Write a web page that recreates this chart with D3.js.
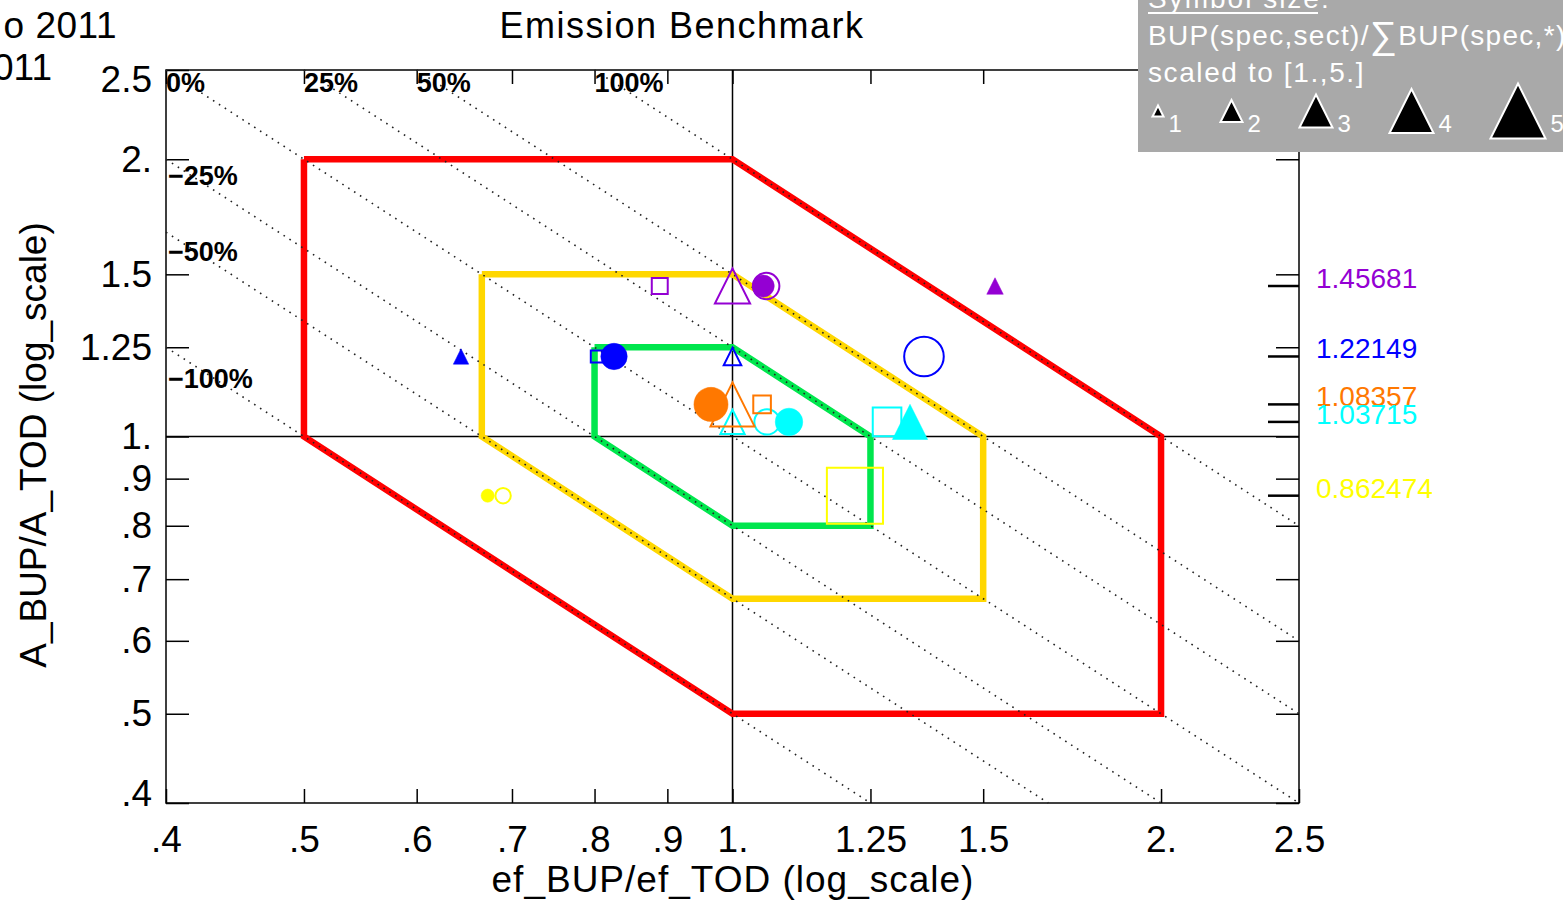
<!DOCTYPE html>
<html>
<head>
<meta charset="utf-8">
<script src="https://cdn.jsdelivr.net/npm/d3@7"></script>
<style>
  body { margin: 0; background: #fff; }
  svg { display: block; font-family: "Liberation Sans", Arial, sans-serif; }
</style>
</head>
<body>
<svg id="chart" width="1563" height="900"></svg>
<script>
// axis ticks (same on both log axes)
const tickVals = [0.4, 0.5, 0.6, 0.7, 0.8, 0.9, 1, 1.25, 1.5, 2, 2.5]
const tickLabels = [".4", ".5", ".6", ".7", ".8", ".9", "1.", "1.25", "1.5", "2.", "2.5"]

// benchmark hexagons: factor f -> corners at 1/f and f
const bandFactors = [2, 1.5, 1.25]
const bandColors = ["#ff0000", "#ffd700", "#00e64d"]

// iso lines of ef*A
const isoTop = [1, 1.25, 1.5, 2]
const isoTopLabels = ["0%", "25%", "50%", "100%"]
const isoLeft = [0.8, 2 / 3, 0.5]
const isoLeftLabels = ["\u221225%", "\u221250%", "\u2212100%"]
const isoLeftLabelY = [1.875, 1.55, 1.13]

// species (A_BUP/A_TOD is one value per species)
const speciesColor = ["#9400d3", "#0000ff", "#ff7800", "#00ffff", "#ffff00"]
const speciesRatio = [1.45681, 1.22149, 1.08357, 1.03715, 0.862474]
const speciesLabel = ["1.45681", "1.22149", "1.08357", "1.03715", "0.862474"]

// sectors -> symbol
const sectorSymbol = ["square", "triangle", "circle", "disc", "filltri"]

// ef_BUP/ef_TOD per sector (null = no point), one array per species
const purpleEf = [0.889, 1.0, 1.056, 1.051, 1.529]
const blueEf = [0.803, 1.0, 1.363, 0.8256, 0.6446]
const orangeEf = [1.049, 1.0, null, 0.9658, null]
const cyanEf = [1.284, 1.0, 1.0574, 1.0957, 1.3326]
const yellowEf = [1.219, null, 0.690, 0.673, null]

// symbol size, scaled to [1,5]
const purpleSize = [1.45, 3.2, 2.4, 2.0, 1.5]
const blueSize = [1.1, 1.6, 3.6, 2.4, 1.4]
const orangeSize = [1.6, 4.0, 0, 3.1, 0]
const cyanSize = [2.6, 2.2, 2.3, 2.5, 3.2]
const yellowSize = [5.1, 0, 1.4, 1.2, 0]

const legendSizes = [1, 2, 3, 4, 5]

const efBySpecies = [purpleEf, blueEf, orangeEf, cyanEf, yellowEf]
const sizeBySpecies = [purpleSize, blueSize, orangeSize, cyanSize, yellowSize]

const svg = d3.select("#chart")

const x = d3.scaleLog().domain([0.4, 2.5]).range([166, 1299])
const y = d3.scaleLog().domain([0.4, 2.5]).range([803, 70])

// cut-off header text
svg.append("text").attr("x", 117).attr("y", 38).attr("font-size", 37)
  .attr("letter-spacing", 0.5).attr("text-anchor", "end").text("o 2011")
svg.append("text").attr("x", 52).attr("y", 80).attr("font-size", 37)
  .attr("text-anchor", "end").text("2011")

svg.append("text")
  .attr("x", 682).attr("y", 38)
  .attr("font-size", 36).attr("letter-spacing", 1.5)
  .attr("text-anchor", "middle")
  .text("Emission Benchmark")

// axes
const fixAxis = g => {
  g.select(".domain").remove()
  g.attr("font-size", 37).attr("font-family", null)
  g.selectAll("line").attr("stroke-width", 1.5)
}

svg.append("g").attr("transform", "translate(0,803)")
  .call(d3.axisBottom(x).tickValues(tickVals).tickSize(-14).tickPadding(23)
    .tickFormat((d, i) => tickLabels[i]))
  .call(fixAxis)

svg.append("g").attr("transform", "translate(0,70)")
  .call(d3.axisTop(x).tickValues(tickVals).tickSize(-14).tickFormat(""))
  .call(fixAxis)

svg.append("g").attr("transform", "translate(166,0)")
  .call(d3.axisLeft(y).tickValues(tickVals).tickSize(-23).tickPadding(14)
    .tickFormat((d, i) => tickLabels[i]))
  .call(fixAxis)
  .call(g => g.selectAll(".tick text")
    .attr("dy", d => d === 2.5 ? "0.58em" : d === 0.4 ? "0.07em" : "0.32em"))

svg.append("g").attr("transform", "translate(1299,0)")
  .call(d3.axisRight(y).tickValues(tickVals).tickSize(-23).tickFormat(""))
  .call(fixAxis)

svg.append("rect")
  .attr("x", x(0.4)).attr("y", y(2.5))
  .attr("width", x(2.5) - x(0.4)).attr("height", y(0.4) - y(2.5))
  .attr("fill", "none").attr("stroke", "#000").attr("stroke-width", 1.5)

svg.append("line")
  .attr("x1", x(1)).attr("x2", x(1)).attr("y1", y(2.5)).attr("y2", y(0.4))
  .attr("stroke", "#000").attr("stroke-width", 1.5)
svg.append("line")
  .attr("x1", x(0.4)).attr("x2", x(2.5)).attr("y1", y(1)).attr("y2", y(1))
  .attr("stroke", "#000").attr("stroke-width", 1.5)

// axis titles
svg.append("text")
  .attr("x", 733).attr("y", 892)
  .attr("font-size", 37).attr("letter-spacing", 1)
  .attr("text-anchor", "middle")
  .text("ef_BUP/ef_TOD (log_scale)")

svg.append("text")
  .attr("transform", "translate(46,445) rotate(-90)")
  .attr("font-size", 37)
  .attr("text-anchor", "middle")
  .text("A_BUP/A_TOD (log_scale)")

// benchmark hexagons
const line = d3.line().x(d => x(d[0])).y(d => y(d[1]))
const hexagon = f => [[1 / f, f], [1, f], [f, 1], [f, 1 / f], [1, 1 / f], [1 / f, 1], [1 / f, f]]

svg.append("g").selectAll("path")
  .data(bandFactors)
  .join("path")
  .attr("d", f => line(hexagon(f)))
  .attr("fill", "none")
  .attr("stroke", (d, i) => bandColors[i])
  .attr("stroke-width", 6.5)
  .attr("stroke-linejoin", "miter")

// iso lines of ef*A
const isoLine = p => [[Math.max(0.4, p / 2.5), p / Math.max(0.4, p / 2.5)],
                      [Math.min(2.5, p / 0.4), p / Math.min(2.5, p / 0.4)]]

svg.append("g").selectAll("path")
  .data(isoTop.concat(isoLeft))
  .join("path")
  .attr("d", p => line(isoLine(p)))
  .attr("fill", "none")
  .attr("stroke", "#222")
  .attr("stroke-width", 1.6)
  .attr("stroke-dasharray", "1.6 5.4")

svg.append("g").selectAll("text")
  .data(isoTop)
  .join("text")
  .attr("x", p => x(p / 2.5))
  .attr("y", y(2.5) + 22)
  .attr("font-size", 27).attr("font-weight", "bold")
  .text((d, i) => isoTopLabels[i])

svg.append("g").selectAll("text")
  .data(isoLeft)
  .join("text")
  .attr("x", x(0.4) + 2)
  .attr("y", (d, i) => y(isoLeftLabelY[i]))
  .attr("font-size", 27).attr("font-weight", "bold")
  .text((d, i) => isoLeftLabels[i])

// points
const points = []
efBySpecies.forEach((efs, s) => {
  efs.forEach((ef, k) => {
    if (ef === null) return
    points.push({ ef, ratio: speciesRatio[s], color: speciesColor[s],
      sym: sectorSymbol[k], size: sizeBySpecies[s][k], s })
  })
})
points.sort((a, b) => b.s - a.s)

const symPath = (sym, r) => {
  if (sym === "triangle" || sym === "filltri") return `M0,${-r}L${r},${r}L${-r},${r}Z`
  if (sym === "square") return `M${-r},${-r}H${r}V${r}H${-r}Z`
  return `M${-r},0A${r},${r} 0 1,0 ${r},0A${r},${r} 0 1,0 ${-r},0Z`
}
const filled = sym => sym === "disc" || sym === "filltri"

svg.append("g").selectAll("path")
  .data(points)
  .join("path")
  .attr("transform", d => `translate(${x(d.ef)},${y(d.ratio)})`)
  .attr("d", d => symPath(d.sym, 5.5 * d.size))
  .attr("fill", d => filled(d.sym) ? d.color : "none")
  .attr("stroke", d => d.color)
  .attr("stroke-width", d => filled(d.sym) ? 0.5 : 2)

// species ratio marks on the right
svg.append("g").selectAll("line")
  .data(speciesRatio)
  .join("line")
  .attr("x1", x(2.5) - 31).attr("x2", x(2.5))
  .attr("y1", d => y(d)).attr("y2", d => y(d))
  .attr("stroke", "#000").attr("stroke-width", 2.5)

svg.append("g").selectAll("text")
  .data(speciesRatio)
  .join("text")
  .attr("x", 1316)
  .attr("y", d => y(d) + 2)
  .attr("font-size", 28)
  .attr("fill", (d, i) => speciesColor[i])
  .text((d, i) => speciesLabel[i])

// symbol size legend
const leg = svg.append("g")
leg.append("rect").attr("x", 1138).attr("y", 0).attr("width", 425).attr("height", 152)
  .attr("fill", "#a9a9a9")

leg.append("text").attr("x", 1148).attr("y", 8).attr("fill", "#fff")
  .attr("font-size", 28).attr("letter-spacing", 2).text("Symbol size:")
leg.append("line").attr("x1", 1148).attr("x2", 1318).attr("y1", 13).attr("y2", 13)
  .attr("stroke", "#fff").attr("stroke-width", 2)

const l2 = leg.append("text").attr("x", 1148).attr("y", 45).attr("fill", "#fff")
  .attr("font-size", 28).attr("letter-spacing", 1.3)
l2.append("tspan").text("BUP(spec,sect)/")
l2.append("tspan").attr("font-size", 38).attr("dy", 3).text("\u2211")
l2.append("tspan").attr("dy", -3).text("BUP(spec,*)")

leg.append("text").attr("x", 1148).attr("y", 82).attr("fill", "#fff")
  .attr("font-size", 28).attr("letter-spacing", 1.6).text("scaled to [1.,5.]")

let lx = 1152.5
legendSizes.forEach(s => {
  const r = 5.5 * s
  const cx = lx + r
  leg.append("path")
    .attr("transform", `translate(${cx},111)`)
    .attr("d", symPath("filltri", r))
    .attr("fill", "#000").attr("stroke", "#fff").attr("stroke-width", 2)
  leg.append("text").attr("x", cx + r + 5).attr("y", 132)
    .attr("fill", "#fff").attr("font-size", 24).text(s)
  lx = cx + r + 5 + 15 + 37
})
</script>
</body>
</html>
